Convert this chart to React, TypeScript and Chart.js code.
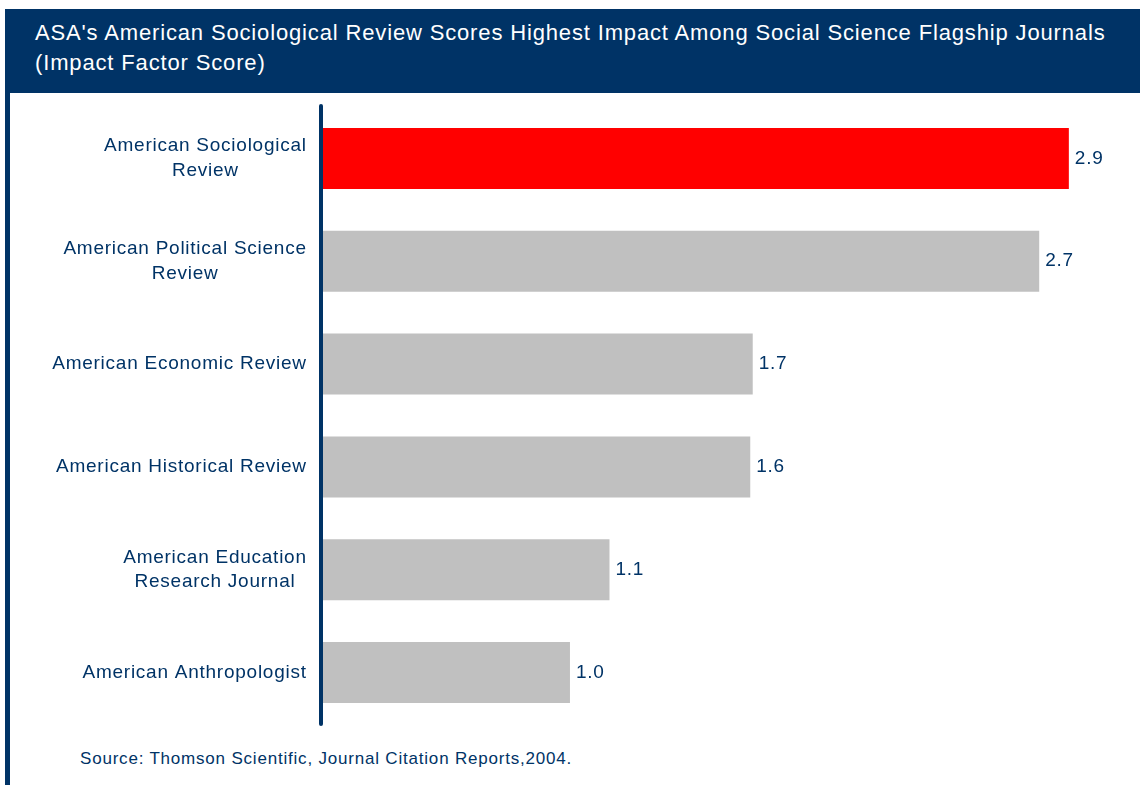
import React, { useEffect, useRef } from "react";
import { Chart, registerables } from "chart.js";

Chart.register(...registerables);

const journals: string[][] = [
  ["American Sociological", "Review"],
  ["American Political Science", "Review"],
  ["American Economic Review"],
  ["American Historical Review"],
  ["American Education", "Research Journal"],
  ["American Anthropologist"],
];
const barLengths: number[] = [3.02, 2.9, 1.74, 1.73, 1.16, 1.0];
const valueLabels: string[] = ["2.9", "2.7", "1.7", "1.6", "1.1", "1.0"];
const barColors: string[] = ["#FF0000", "#C0C0C0", "#C0C0C0", "#C0C0C0", "#C0C0C0", "#C0C0C0"];

const NAVY = "#003366";
const FONT = "'Liberation Sans', Arial, sans-serif";

const decorPlugin = {
  id: "decor",
  afterDatasetsDraw(chart: any) {
    const ctx = chart.ctx;
    const area = chart.chartArea;
    const yScale = chart.scales.y;
    const meta = chart.getDatasetMeta(0);
    ctx.save();
    // axis line
    ctx.strokeStyle = NAVY;
    ctx.lineWidth = 4;
    ctx.lineCap = "round";
    ctx.beginPath();
    ctx.moveTo(area.left - 2, area.top - 1);
    ctx.lineTo(area.left - 2, area.bottom + 0);
    ctx.stroke();
    // category labels
    ctx.fillStyle = NAVY;
    ctx.font = `19px ${FONT}`;
    (ctx as any).letterSpacing = "0.75px";
    ctx.textBaseline = "middle";
    ctx.textAlign = "left";
    const lh = 24.5;
    journals.forEach((lines, i) => {
      const yc = yScale.getPixelForValue(i);
      const widths = lines.map((l) => ctx.measureText(l).width - 0.75);
      const w = Math.max(...widths);
      const right = area.left - 17;
      const cx = right - w / 2;
      const y0 = yc - ((lines.length - 1) * lh) / 2;
      lines.forEach((l, j) => ctx.fillText(l, cx - widths[j] / 2, y0 + j * lh));
    });
    // value labels
    meta.data.forEach((bar: any, i: number) => {
      ctx.fillText(valueLabels[i], bar.x + 6, bar.y);
    });
    ctx.restore();
  },
};

export default function App() {
  const ref = useRef<HTMLCanvasElement | null>(null);
  useEffect(() => {
    if (!ref.current) return;
    const chart = new Chart(ref.current, {
      type: "bar",
      data: {
        labels: journals.map((l) => l.join(" ")),
        datasets: [
          {
            data: barLengths,
            backgroundColor: barColors,
            borderWidth: 0,
            barPercentage: 0.593,
            categoryPercentage: 1,
          },
        ],
      },
      options: {
        indexAxis: "y",
        animation: false,
        responsive: false,
        devicePixelRatio: 1,
        layout: { padding: { left: 313, right: 2, top: 14, bottom: 19 } },
        plugins: { legend: { display: false }, tooltip: { enabled: false } },
        scales: {
          x: { display: false, min: 0, max: 3.3 },
          y: { display: false },
        },
      },
      plugins: [decorPlugin],
    });
    return () => chart.destroy();
  }, []);

  return (
    <div style={{ position: "absolute", left: 0, top: 0, width: 1140, height: 785, background: "#fff", overflow: "hidden", fontFamily: FONT }}>
      <div
        style={{
          position: "absolute",
          left: 5,
          top: 9,
          width: 1135,
          height: 84,
          background: NAVY,
          color: "#fff",
          fontSize: 22,
          letterSpacing: "0.85px",
          lineHeight: "30px",
          padding: "9px 0 0 30px",
          boxSizing: "border-box",
          whiteSpace: "nowrap",
        }}
      >
        ASA's American Sociological Review Scores Highest Impact Among Social Science Flagship Journals
        <br />
        (Impact Factor Score)
      </div>
      <div style={{ position: "absolute", left: 5, top: 9, width: 5, height: 776, background: NAVY }} />
      <canvas ref={ref} width={1130} height={650} style={{ position: "absolute", left: 10, top: 93, width: 1130, height: 650 }} />
      <div style={{ position: "absolute", left: 80, top: 749, fontSize: 17, letterSpacing: "0.8px", lineHeight: "20px", color: NAVY, whiteSpace: "nowrap" }}>
        Source: Thomson Scientific, Journal Citation Reports,2004.
      </div>
    </div>
  );
}
